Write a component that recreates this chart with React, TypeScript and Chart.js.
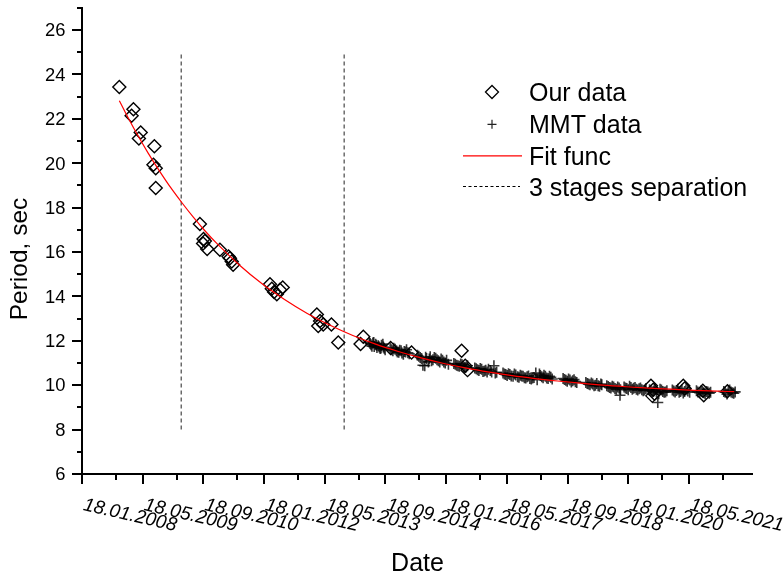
import React, { useEffect, useRef } from 'react';
import { Chart, registerables } from 'chart.js';

Chart.register(...registerables);

// ---------- axis data ----------
const xMin = 2008.05;
const xMax = 2022.77;
const yMin = 6;
const yMax = 27;
const xMajorTicks = [2008.05, 2009.383, 2010.717, 2012.05, 2013.383, 2014.717, 2016.05, 2017.383, 2018.717, 2020.05, 2021.383];
const xTickLabels = ['18.01.2008', '18.05.2009', '18.09.2010', '18.01.2012', '18.05.2013', '18.09.2014', '18.01.2016', '18.05.2017', '18.09.2018', '18.01.2020', '18.05.2021'];
const xMinorTicks = [2008.797, 2010.13, 2011.464, 2012.797, 2014.13, 2015.464, 2016.797, 2018.13, 2019.464, 2020.797, 2022.13];
const yMajorTicks = [6, 8, 10, 12, 14, 16, 18, 20, 22, 24, 26];
const yMinorTicks = [7, 9, 11, 13, 15, 17, 19, 21, 23, 25, 27];

// ---------- series ----------
const ourX = [2008.87, 2009.14, 2009.18, 2009.30, 2009.34, 2009.62, 2009.64, 2009.67, 2009.67, 2010.64, 2010.71, 2010.72, 2010.75, 2010.80, 2011.08, 2011.27, 2011.30, 2011.34, 2011.37, 2012.18, 2012.22, 2012.27, 2012.33, 2012.40, 2012.46, 2013.21, 2013.24, 2013.28, 2013.35, 2013.53, 2013.68, 2014.17, 2014.23, 2014.83, 2015.29, 2016.39, 2016.47, 2016.52, 2020.55, 2020.58, 2020.60, 2020.63, 2021.26, 2021.29, 2021.69, 2021.71, 2022.23];
const ourY = [23.44, 22.14, 22.43, 21.12, 21.39, 19.93, 20.77, 19.78, 18.89, 17.26, 16.39, 16.59, 16.50, 16.14, 16.10, 15.80, 15.72, 15.57, 15.43, 14.55, 14.35, 14.20, 14.10, 14.30, 14.40, 13.19, 12.67, 12.89, 12.74, 12.74, 11.92, 11.86, 12.18, 11.68, 11.47, 11.55, 10.88, 10.68, 9.98, 9.52, 9.80, 9.62, 9.98, 9.85, 9.75, 9.55, 9.73];

const mmtX = [
  2014.36, 2014.40, 2014.44, 2014.47, 2014.50, 2014.53, 2014.56, 2014.60, 2014.63, 2014.67, 2014.71,
  2014.82, 2014.88, 2014.93, 2014.98, 2015.03, 2015.08, 2015.13, 2015.18, 2015.24,
  2015.42, 2015.48, 2015.54, 2015.58, 2015.62, 2015.66, 2015.70, 2015.76, 2015.82, 2015.88, 2015.94, 2016.00, 2016.06, 2016.10,
  2016.22, 2016.28, 2016.34, 2016.40, 2016.46, 2016.52,
  2016.68, 2016.74, 2016.80, 2016.86, 2016.92, 2016.98, 2017.05, 2017.10, 2017.16,
  2017.30, 2017.36, 2017.42, 2017.48, 2017.55, 2017.62, 2017.68, 2017.74, 2017.80, 2017.86, 2017.92, 2017.98, 2018.05,
  2018.10, 2018.15, 2018.20, 2018.26, 2018.32, 2018.38,
  2018.62, 2018.68, 2018.74, 2018.80, 2018.86, 2018.92,
  2019.12, 2019.18, 2019.24, 2019.30, 2019.36, 2019.42, 2019.47,
  2019.58, 2019.64, 2019.70, 2019.76, 2019.82, 2019.87, 2019.88,
  2019.96, 2020.02, 2020.08, 2020.14, 2020.20, 2020.26, 2020.32, 2020.38, 2020.44,
  2020.52, 2020.58, 2020.64, 2020.70, 2020.72, 2020.78, 2020.84, 2020.90,
  2021.02, 2021.08, 2021.14, 2021.20, 2021.26, 2021.32, 2021.40,
  2021.55, 2021.62, 2021.68, 2021.74, 2021.80, 2021.86,
  2022.15, 2022.22, 2022.28, 2022.34, 2022.40
];
const mmtY = [
  11.95, 11.82, 11.90, 11.75, 11.85, 11.70, 11.78, 11.65, 11.80, 11.72, 11.60,
  11.68, 11.55, 11.62, 11.50, 11.58, 11.45, 11.52, 11.60, 11.42,
  11.35, 11.25, 10.90, 10.88, 11.20, 11.05, 11.28, 11.15, 11.22, 11.10, 11.18, 11.05, 11.12, 10.95,
  10.98, 10.90, 10.85, 10.92, 10.80, 10.88,
  10.78, 10.70, 10.75, 10.62, 10.68, 10.72, 10.60, 10.88, 10.58,
  10.55, 10.48, 10.52, 10.42, 10.50, 10.38, 10.45, 10.40, 10.32, 10.42, 10.28, 10.35, 10.25,
  10.50, 10.38, 10.45, 10.32, 10.40, 10.28,
  10.30, 10.22, 10.28, 10.15, 10.25, 10.12,
  10.12, 10.05, 10.10, 9.98, 10.08, 9.95, 10.02,
  9.98, 9.90, 9.95, 9.85, 9.92, 9.55, 9.80,
  9.92, 9.85, 9.95, 9.82, 9.90, 9.78, 9.88, 9.75, 9.85,
  9.80, 9.70, 9.85, 9.22, 9.62, 9.78, 9.68, 9.75,
  9.78, 9.70, 9.82, 9.72, 9.65, 9.80, 9.68,
  9.75, 9.66, 9.72, 9.62, 9.70, 9.68,
  9.72, 9.60, 9.78, 9.66, 9.70
];
const mmtXb = [
  2014.38, 2014.42, 2014.46, 2014.52, 2014.58, 2014.62, 2014.66, 2014.69,
  2014.85, 2014.90, 2014.96, 2015.01, 2015.06, 2015.11, 2015.16, 2015.21,
  2015.45, 2015.51, 2015.60, 2015.68, 2015.73, 2015.79, 2015.85, 2015.91, 2015.97, 2016.03,
  2016.25, 2016.31, 2016.37, 2016.43, 2016.49,
  2016.71, 2016.77, 2016.83, 2016.89, 2016.95, 2017.02, 2017.13,
  2017.33, 2017.39, 2017.45, 2017.52, 2017.58, 2017.65, 2017.71, 2017.77, 2017.83, 2017.89, 2017.95, 2018.02,
  2018.12, 2018.18, 2018.23, 2018.29, 2018.35,
  2018.65, 2018.71, 2018.77, 2018.83, 2018.89,
  2019.15, 2019.21, 2019.27, 2019.33, 2019.39, 2019.45,
  2019.61, 2019.67, 2019.73, 2019.79, 2019.85,
  2019.99, 2020.05, 2020.11, 2020.17, 2020.23, 2020.29, 2020.35, 2020.41,
  2020.55, 2020.61, 2020.67, 2020.75, 2020.81, 2020.87,
  2021.05, 2021.11, 2021.17, 2021.23, 2021.29, 2021.36,
  2021.58, 2021.65, 2021.71, 2021.77, 2021.83,
  2022.18, 2022.25, 2022.31, 2022.37
];
const mmtYb = [
  11.88, 11.76, 11.92, 11.80, 11.72, 11.68, 11.85, 11.66,
  11.60, 11.66, 11.55, 11.48, 11.55, 11.40, 11.50, 11.46,
  11.30, 11.20, 11.26, 11.18, 11.10, 11.25, 11.15, 11.05, 11.12, 11.00,
  10.94, 10.88, 10.96, 10.84, 10.82,
  10.74, 10.66, 10.72, 10.64, 10.60, 10.66, 10.55,
  10.50, 10.44, 10.48, 10.40, 10.46, 10.36, 10.42, 10.34, 10.38, 10.30, 10.32, 10.55,
  10.44, 10.34, 10.40, 10.30, 10.36,
  10.26, 10.18, 10.24, 10.20, 10.16,
  10.08, 10.02, 10.06, 10.00, 9.98, 10.05,
  9.94, 9.88, 9.92, 9.82, 9.88,
  9.88, 9.80, 9.90, 9.86, 9.82, 9.84, 9.80, 9.78,
  9.76, 9.74, 9.70, 9.82, 9.72, 9.70,
  9.74, 9.76, 9.68, 9.78, 9.72, 9.74,
  9.70, 9.74, 9.66, 9.72, 9.64,
  9.68, 9.74, 9.70, 9.64
];

const fitX = [2008.87, 2009.0, 2009.25, 2009.5, 2009.75, 2010.0, 2010.25, 2010.5, 2010.75, 2011.0, 2011.5, 2012.0, 2012.5, 2013.0, 2013.5, 2014.0, 2014.5, 2015.0, 2015.5, 2016.0, 2016.5, 2017.0, 2017.5, 2018.0, 2018.5, 2019.0, 2019.5, 2020.0, 2020.5, 2021.0, 2021.5, 2022.0, 2022.38];
const fitY = [22.82, 22.30, 21.35, 20.47, 19.66, 18.90, 18.21, 17.56, 16.96, 16.41, 15.43, 14.58, 13.86, 13.23, 12.70, 12.24, 11.85, 11.52, 11.23, 10.98, 10.77, 10.59, 10.43, 10.30, 10.19, 10.09, 10.00, 9.93, 9.87, 9.82, 9.77, 9.73, 9.71];

const stageX = [2010.23, 2013.81];
const stageYRange = [8, 25];

const legendLabels = ['Our data', 'MMT data', 'Fit func', '3 stages separation'];
const yTitle = 'Period, sec';
const xTitle = 'Date';

const FONT = '"Liberation Sans", Arial, sans-serif';

const overlay = {
  id: 'overlay',
  afterDraw(chart: any) {
    const ctx: CanvasRenderingContext2D = chart.ctx;
    const xs = chart.scales.x;
    const ys = chart.scales.y;
    const { left, bottom } = chart.chartArea;
    ctx.save();
    ctx.strokeStyle = '#000';
    ctx.fillStyle = '#000';
    ctx.lineWidth = 2;
    // minor ticks
    for (const v of yMinorTicks) {
      const py = Math.round(ys.getPixelForValue(v));
      ctx.beginPath();
      ctx.moveTo(left - 5, py);
      ctx.lineTo(left, py);
      ctx.stroke();
    }
    for (const v of xMinorTicks) {
      const px = Math.round(xs.getPixelForValue(v));
      ctx.beginPath();
      ctx.moveTo(px, bottom);
      ctx.lineTo(px, bottom + 6);
      ctx.stroke();
    }
    // y tick labels
    const yFs = 17.5;
    ctx.font = `${yFs}px ${FONT}`;
    ctx.textAlign = 'right';
    ctx.textBaseline = 'alphabetic';
    for (const v of yMajorTicks) {
      const py = ys.getPixelForValue(v);
      ctx.save();
      ctx.translate(65.5, py + (yFs * 0.716) / 2);
      ctx.scale(1.05, 1);
      ctx.fillText(String(v), 0, 0);
      ctx.restore();
    }
    // x tick labels (rotated, italic)
    const ang = (12.8 * Math.PI) / 180;
    ctx.font = `italic 19px ${FONT}`;
    ctx.textAlign = 'left';
    xMajorTicks.forEach((v, i) => {
      const px = xs.getPixelForValue(v);
      ctx.save();
      ctx.translate(px + 0.5, 510);
      ctx.rotate(ang);
      ctx.fillText(xTickLabels[i], 0, 0);
      ctx.restore();
    });
    // axis titles
    ctx.font = `24.5px ${FONT}`;
    ctx.textAlign = 'center';
    ctx.save();
    ctx.translate(26.5, 259);
    ctx.rotate(-Math.PI / 2);
    ctx.fillText(yTitle, 0, 0);
    ctx.restore();
    ctx.font = `25px ${FONT}`;
    ctx.fillText(xTitle, 417.5, 571);

    // legend
    const rows = [92, 124.3, 155.8, 186.5];
    ctx.font = `25px ${FONT}`;
    ctx.textAlign = 'left';
    legendLabels.forEach((t, i) => {
      ctx.fillText(t, 529, rows[i] + 9);
    });
    // diamond
    ctx.lineWidth = 1.3;
    ctx.beginPath();
    ctx.moveTo(485.5, rows[0]);
    ctx.lineTo(492, rows[0] - 6.5);
    ctx.lineTo(498.5, rows[0]);
    ctx.lineTo(492, rows[0] + 6.5);
    ctx.closePath();
    ctx.stroke();
    // plus
    ctx.strokeStyle = '#222';
    ctx.lineWidth = 1.2;
    ctx.beginPath();
    ctx.moveTo(487.5, rows[1]);
    ctx.lineTo(496.5, rows[1]);
    ctx.moveTo(492, rows[1] - 4.5);
    ctx.lineTo(492, rows[1] + 4.5);
    ctx.stroke();
    // red line
    ctx.strokeStyle = '#ff0000';
    ctx.beginPath();
    ctx.moveTo(463, rows[2]);
    ctx.lineTo(522, rows[2]);
    ctx.stroke();
    // dashed
    ctx.strokeStyle = '#000';
    ctx.setLineDash([3, 2.5]);
    ctx.beginPath();
    ctx.moveTo(463, rows[3]);
    ctx.lineTo(520, rows[3]);
    ctx.stroke();
    ctx.setLineDash([]);
    ctx.restore();
  },
};

export default function App() {
  const ref = useRef<HTMLCanvasElement>(null);
  useEffect(() => {
    const canvas = ref.current;
    if (!canvas) return;
    const allMmtX = mmtX.concat(mmtXb);
    const allMmtY = mmtY.concat(mmtYb);
    const chart = new Chart(canvas, {
      type: 'scatter',
      data: {
        datasets: [
          {
            label: legendLabels[2],
            data: fitX.map((x, i) => ({ x, y: fitY[i] })),
            showLine: true,
            borderColor: '#ff0000',
            borderWidth: 1.2,
            pointRadius: 0,
            cubicInterpolationMode: 'monotone',
            fill: false,
          },
          {
            label: legendLabels[0],
            data: ourX.map((x, i) => ({ x, y: ourY[i] })),
            pointStyle: 'rectRot',
            pointRadius: 6.5,
            borderColor: '#000',
            backgroundColor: 'rgba(0,0,0,0)',
            borderWidth: 1.4,
          },
          {
            label: legendLabels[1],
            data: allMmtX.map((x, i) => ({ x, y: allMmtY[i] })),
            pointStyle: 'cross',
            pointRadius: 5.5,
            borderColor: 'rgba(0,0,0,0.78)',
            backgroundColor: 'rgba(0,0,0,0.78)',
            borderWidth: 1.6,
          },
          ...stageX.map((x) => ({
            label: legendLabels[3],
            data: [{ x, y: stageYRange[0] }, { x, y: stageYRange[1] }],
            showLine: true,
            borderColor: '#555',
            borderWidth: 1.3,
            borderDash: [4, 3],
            pointRadius: 0,
          })),
        ] as any,
      },
      options: {
        responsive: false,
        devicePixelRatio: 1,
        animation: false,
        events: [],
        layout: { padding: { top: 5, right: 31, left: 0, bottom: 0 } },
        plugins: { legend: { display: false }, tooltip: { enabled: false } },
        scales: {
          x: {
            type: 'linear',
            position: 'bottom',
            min: xMin,
            max: xMax,
            ticks: { display: false },
            grid: { display: true, drawOnChartArea: false, drawTicks: true, tickLength: 10, color: '#000', lineWidth: 2 },
            border: { display: true, color: '#000', width: 2 },
            afterBuildTicks: (scale: any) => {
              scale.ticks = xMajorTicks.map((v) => ({ value: v }));
            },
            afterFit: (scale: any) => {
              scale.height = 104;
            },
          },
          y: {
            type: 'linear',
            min: yMin,
            max: yMax,
            ticks: { display: false },
            grid: { display: true, drawOnChartArea: false, drawTicks: true, tickLength: 10, color: '#000', lineWidth: 2 },
            border: { display: true, color: '#000', width: 2 },
            afterBuildTicks: (scale: any) => {
              scale.ticks = yMajorTicks.map((v) => ({ value: v }));
            },
            afterFit: (scale: any) => {
              scale.width = 82;
            },
          },
        },
      } as any,
      plugins: [overlay],
    });
    return () => chart.destroy();
  }, []);
  return (
    <div style={{ position: 'absolute', left: 0, top: 0, width: 783, height: 578, background: '#fff' }}>
      <canvas ref={ref} width={783} height={578} style={{ display: 'block' }} />
    </div>
  );
}
